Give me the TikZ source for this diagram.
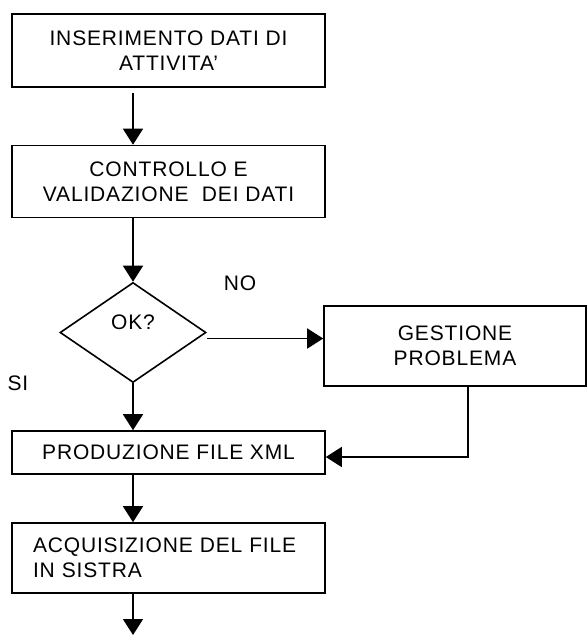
\documentclass[tikz,border=0pt]{standalone}
\usepackage{fontspec}
\setmainfont{Liberation Sans}[LetterSpace=4]
\usepackage{tikz}
\usetikzlibrary{shapes.geometric,arrows.meta}

\begin{document}
\begin{tikzpicture}[x=1pt,y=-1pt,
    every node/.style={font=\fontsize{21}{25}\selectfont},
    box/.style={draw, line width=1.6pt, rectangle, align=center, inner sep=0pt},
    decision/.style={draw, line width=1.6pt, diamond, inner sep=0pt, minimum width=146pt, minimum height=100pt},
    arr/.style={line width=1.6pt, -{Triangle[length=16pt,width=20pt]}}]
        \useasboundingbox (0,0) rectangle (587,635);
        % Flow of the steps
        \node[box, minimum width=313pt, minimum height=73pt] (ins) at (168.5,50.5) {INSERIMENTO DATI DI\\ATTIVITA’};
        \node[box, minimum width=313pt, minimum height=72pt] (ctrl) at (168.5,181.5) {CONTROLLO E\\VALIDAZIONE~~DEI DATI};
        \node[decision] (ok) at (133,332.5) {};
        \node at ([yshift=10pt]ok.center) {OK?};
        \node[box, minimum width=262pt, minimum height=80pt] (gest) at (455,346) {GESTIONE\\PROBLEMA};
        \node[box, minimum width=313pt, minimum height=43pt] (prod) at (168.5,452.5) {PRODUZIONE FILE XML};
        \node[box, minimum width=313pt, minimum height=70pt, text width=271pt, inner xsep=21pt, align=left] (acq) at (168.5,558) {ACQUISIZIONE DEL FILE\\IN SISTRA};
        \coordinate (fine) at (133,635);

        \node (no) at (240,283) {NO};
        \node (si) at (18,383) {SI};

        \draw[arr, shorten <=5pt] (ins.south -| ok.north) -- (ctrl.north -| ok.north);
        \draw[arr] (ctrl.south -| ok.north) -- (ok.north);
        \draw[arr] ([yshift=-6pt]ok.east) -- ([yshift=-6pt]ok.east -| gest.west);
        \draw[arr] (ok.south) -- (ok.south |- prod.north);
        \draw[arr] ([xshift=13pt]gest.south) |- ([yshift=-4.5pt]prod.east);
        \draw[arr] (prod.south -| ok.north) -- (acq.north -| ok.north);
        \draw[arr] (acq.south -| ok.north) -- (fine);
    \end{tikzpicture}
\end{document}
